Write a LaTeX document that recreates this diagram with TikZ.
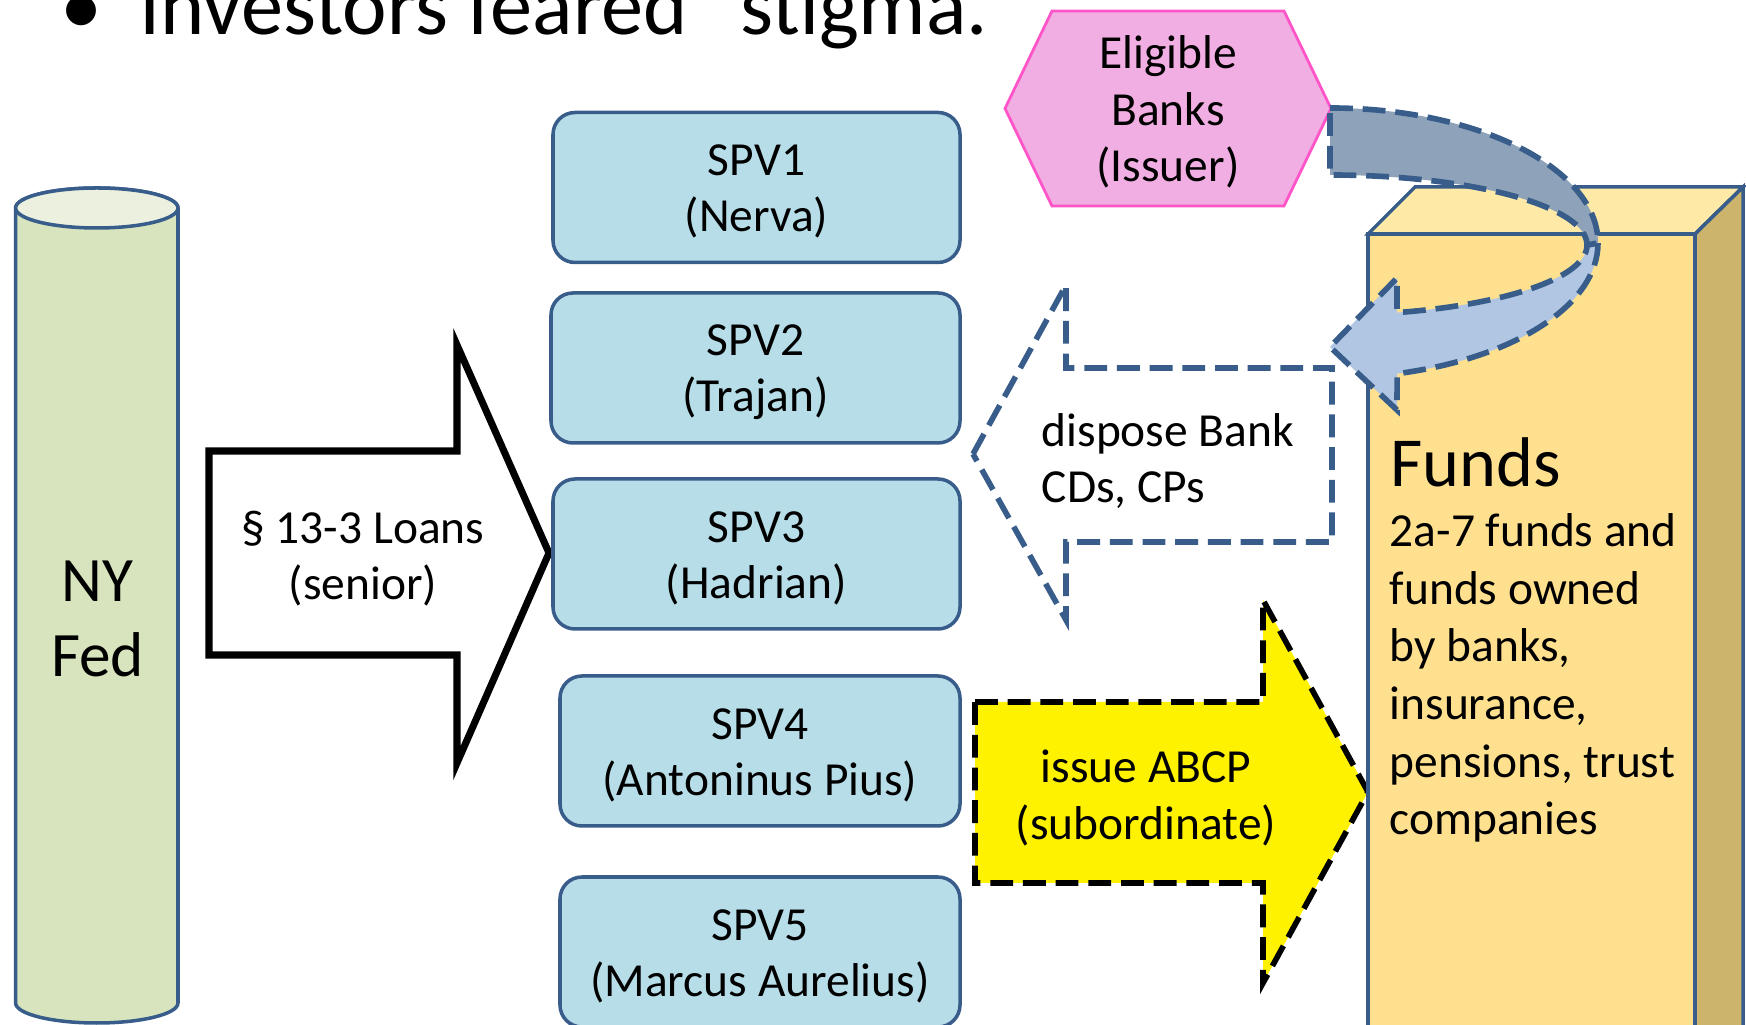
\documentclass[tikz,border=0pt]{standalone}
\usepackage{fontspec}
\setmainfont{Carlito}
\usepackage{xcolor}
\definecolor{fedgreen}{RGB}{215,228,189}
\definecolor{fedtop}{RGB}{235,241,222}
\definecolor{boxedge}{RGB}{56,93,138}
\definecolor{spvblue}{RGB}{183,222,232}
\definecolor{bankpink}{RGB}{241,174,226}
\definecolor{bankedge}{RGB}{255,85,200}
\definecolor{fundfront}{RGB}{254,224,142}
\definecolor{fundtop}{RGB}{254,233,166}
\definecolor{fundside}{RGB}{204,180,108}
\definecolor{bandgray}{RGB}{142,162,185}
\definecolor{bandblue}{RGB}{177,198,226}
\usepackage{tikz}

\tikzset{
    spvbox/.style={draw=boxedge, line width=1pt, fill=spvblue, rounded corners=0.22cm, minimum height=1.5cm, align=center},
    blocktext/.style={align=center, inner sep=0pt},
    dashline/.style={line width=1.6pt, dash pattern=on 6.5pt off 2.8pt},
    bigtext/.style={font=\fontsize{18}{21.5}\selectfont}
}

\begin{document}
\begin{tikzpicture}
    \fontsize{13.5}{16}\selectfont
    \useasboundingbox (0, 0) rectangle (17.46, 10.25);
    \clip (0, 0) rectangle (17.46, 10.25);
    \node[anchor=base, inner sep=0] (dot) at (0.82, 9.90) {\fontsize{24}{28}\selectfont •};
    \node[anchor=base west, inner sep=0] (heading) at (1.39, 9.90) {\fontsize{24}{28}\selectfont Investors feared “stigma.”};
    % NY Fed cylinder
    \draw[boxedge, line width=1pt, fill=fedgreen] (0.156, 8.17) -- (0.156, 0.22) arc[start angle=180, end angle=360, x radius=0.812, y radius=0.2] -- (1.78, 8.17) arc[start angle=0, end angle=180, x radius=0.812, y radius=0.2] -- cycle;
    \draw[boxedge, line width=1pt, fill=fedtop] (0.968, 8.17) ellipse [x radius=0.812, y radius=0.2];
    \node[blocktext, bigtext] (fed) at (0.975, 4.06) {NY\\Fed};
    % loans
    \draw[line width=2pt, fill=white] (2.09, 5.74) -- (4.57, 5.74) -- (4.57, 6.80) -- (5.49, 4.72) -- (4.57, 2.62) -- (4.57, 3.70) -- (2.09, 3.70) -- cycle;
    \node[blocktext] (loans) at (3.63, 4.665) {§ 13-3 Loans\\(senior)};
    % SPVs
    \foreach \n/\x/\y/\w/\who in {1/7.565/8.375/4.07/Nerva, 2/7.555/6.57/4.09/Trajan, 3/7.565/4.71/4.07/Hadrian, 4/7.60/2.74/4.00/Antoninus Pius, 5/7.60/0.73/4.00/Marcus Aurelius}
        \node[spvbox, minimum width=\w cm] (spv\n) at (\x, \y) {\strut SPV\n\\(\who)};
    % issuer
    \draw[bankedge, line width=0.8pt, fill=bankpink] (10.05, 9.165) -- (10.52, 10.14) -- (12.84, 10.14) -- (13.31, 9.165) -- (12.84, 8.19) -- (10.52, 8.19) -- cycle;
    \node[blocktext] (banks) at (11.68, 9.13) {Eligible\\Banks\\(Issuer)};
    % dispose
    \draw[boxedge, dashline, fill=white] (9.73, 5.71) -- (10.66, 7.40) -- (10.66, 6.57) -- (13.32, 6.57) -- (13.32, 4.83) -- (10.66, 4.83) -- (10.66, 4.05) -- cycle;
    \node[blocktext, anchor=west, align=left] (dispose) at (10.41, 5.64) {dispose Bank\\CDs, CPs};
    % ABCP
    \draw[dashline, fill=yellow] (9.75, 3.23) -- (12.63, 3.23) -- (12.63, 4.25) -- (13.68, 2.33) -- (12.63, 0.42) -- (12.63, 1.42) -- (9.75, 1.42) -- cycle;
    \node[blocktext] (abcp) at (11.46, 2.27) {issue ABCP\\(subordinate)};
    % funds box
    \draw[boxedge, line width=1pt, fill=fundfront] (13.68, -0.1) rectangle (16.95, 7.91);
    \draw[boxedge, line width=1pt, fill=fundtop] (13.68, 7.91) -- (14.15, 8.38) -- (17.43, 8.38) -- (16.95, 7.91) -- cycle;
    \draw[boxedge, line width=1pt, fill=fundside] (16.95, 7.91) -- (17.43, 8.38) -- (17.43, -0.1) -- (16.95, -0.1) -- cycle;
    \node[anchor=base west, inner sep=0, font=\fontsize{20}{24}\selectfont] (funds) at (13.90, 5.38) {Funds};
    \node[blocktext, anchor=west, align=left, font=\fontsize{13.5}{16.4}\selectfont] (holders) at (13.89, 3.47) {2a-7 funds and\\funds owned\\by banks,\\insurance,\\pensions, trust\\companies};
    % turn-back arrow
    \draw[boxedge, dashline, fill=bandblue] (15.98, 7.82) arc[start angle=0, end angle=-75.5, x radius=2.68, y radius=1.35] -- (13.97, 6.15) -- (13.30, 6.78) -- (13.97, 7.47) -- (13.97, 7.124) arc[start angle=-74.9, end angle=0, x radius=2.57, y radius=0.70] -- cycle;
    \draw[boxedge, dashline, fill=bandgray] (13.30, 9.17) arc[start angle=90, end angle=0, x radius=2.68, y radius=1.35] -- (15.87, 7.80) arc[start angle=0, end angle=90, x radius=2.57, y radius=0.70] -- cycle;
\end{tikzpicture}
\end{document}
